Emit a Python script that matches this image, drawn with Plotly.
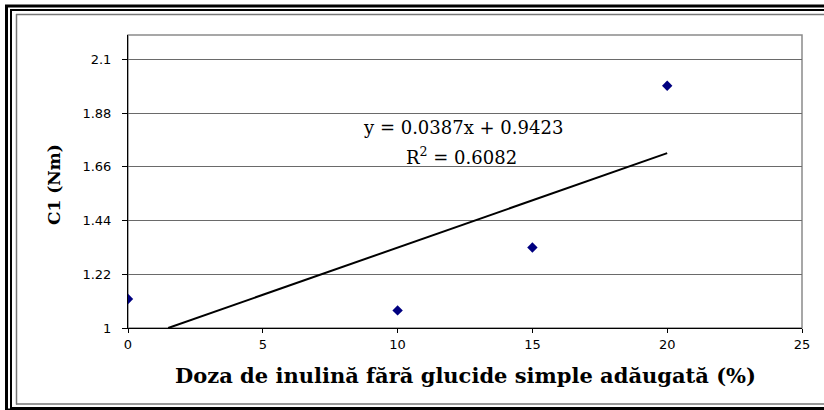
import plotly.graph_objects as go

# Inulin dose without simple sugars (%) and measured C1 torque (Nm)
doza = [0, 10, 15, 20]
c1 = [1.119, 1.072, 1.330, 1.992]

# Linear trendline coefficients as printed on the chart
panta = 0.0387
intercept = 0.9423
r_patrat = 0.6082

y_ticks = [1, 1.22, 1.44, 1.66, 1.88, 2.1]
y_ticktext = ["1", "1.22", "1.44", "1.66", "1.88", "2.1"]
x_ticks = [0, 5, 10, 15, 20, 25]

W, H = 824, 410
L, R, T, B = 128, 22, 35, 82
PW, PH = W - L - R, H - T - B


def px(x):
    return (x - L) / PW


def py(y):
    return (H - B - y) / PH


def hline(y, x0, x1, color, width):
    return dict(type="line", xref="paper", yref="paper",
                x0=px(x0), x1=px(x1), y0=py(y), y1=py(y),
                line=dict(color=color, width=width))


def vline(x, y0, y1, color, width):
    return dict(type="line", xref="paper", yref="paper",
                x0=px(x), x1=px(x), y0=py(y0), y1=py(y1),
                line=dict(color=color, width=width))


# Trendline over the data span, clipped at the axis minimum
x0 = (y_ticks[0] - intercept) / panta
x_fit = [x0, max(doza)]
y_fit = [panta * x + intercept for x in x_fit]

fig = go.Figure()
fig.add_trace(go.Scatter(x=x_fit, y=y_fit, mode="lines",
                         line=dict(color="black", width=2),
                         hoverinfo="skip", showlegend=False))
fig.add_trace(go.Scatter(x=doza, y=c1, mode="markers",
                         marker=dict(symbol="diamond", size=8, color="#000080"),
                         showlegend=False))

shapes = [
    # plot area frame
    dict(type="rect", xref="paper", yref="paper", x0=0, x1=1, y0=0, y1=1,
         line=dict(color="#8a8a8a", width=1.5), layer="below"),
    # outer thick border (left, top, bottom)
    vline(6.5, 5, 420, "black", 3),
    hline(6, 5, 830, "black", 3),
    hline(410, 5, 830, "black", 3),
    # second black border
    vline(11, 9, 408, "black", 2),
    hline(10, 10, 830, "black", 2),
    hline(408, 10, 830, "black", 2),
    # inner gray border
    vline(16.5, 14, 404.5, "#777777", 1.5),
    hline(14.5, 16, 830, "#777777", 1.5),
    hline(404, 16, 830, "#777777", 1.5),
]

annot_font = dict(family="DejaVu Serif", size=18, color="black")
annotations = [
    dict(text="y = 0.0387x + 0.9423", x=px(463), y=py(128),
         xanchor="center", yanchor="middle", font=annot_font),
    dict(text="R<sup>2</sup> = 0.6082", x=px(461), y=py(156),
         xanchor="center", yanchor="middle", font=annot_font),
    dict(text="<b>Doza de inulină fără glucide simple adăugată (%)</b>",
         x=px(465), y=py(375), xanchor="center", yanchor="middle",
         font=dict(family="DejaVu Serif", size=21, color="black")),
    dict(text="<b>C1 (Nm)</b>", x=px(54), y=py(185), xanchor="center", yanchor="middle",
         textangle=-90, font=dict(family="DejaVu Serif", size=17, color="black")),
]
for a in annotations:
    a.update(xref="paper", yref="paper", showarrow=False)

fig.update_layout(
    width=W, height=H,
    margin=dict(l=L, r=R, t=T, b=B),
    paper_bgcolor="white", plot_bgcolor="white",
    shapes=shapes, annotations=annotations,
    xaxis=dict(range=[0, 25], tickvals=x_ticks, showgrid=False, zeroline=False,
               showline=True, linecolor="black", linewidth=1,
               ticks="outside", ticklen=4, tickcolor="black",
               tickfont=dict(family="DejaVu Sans", size=13, color="black"),
               ticklabelstandoff=0),
    yaxis=dict(range=[1, 2.2], tickvals=y_ticks, ticktext=y_ticktext,
               showgrid=True, gridcolor="#6a6a6a", gridwidth=1, zeroline=False,
               showline=True, linecolor="black", linewidth=1,
               ticks="outside", ticklen=5, tickcolor="black",
               tickfont=dict(family="DejaVu Sans", size=13, color="black"),
               ticklabelstandoff=8),
)

fig.write_html("out.html")
